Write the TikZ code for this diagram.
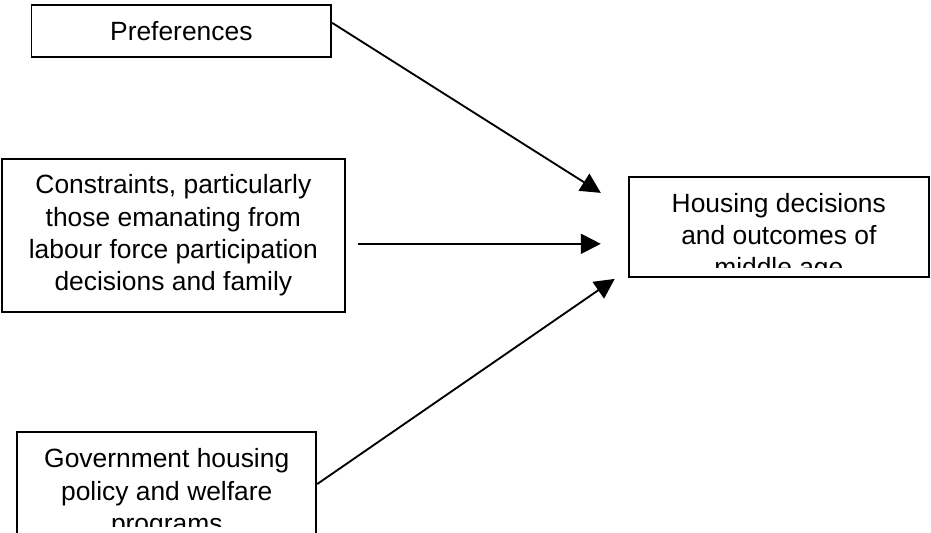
\documentclass[tikz,border=0pt]{standalone}
\usepackage{fontspec}
\setmainfont{Liberation Sans}
\usetikzlibrary{arrows.meta, positioning, calc}

\begin{document}
\begin{tikzpicture}[
    box/.style={rectangle, draw, line width=0.8pt, align=center, inner sep=0pt},
    txt/.style={align=center, inner sep=0pt},
    flow/.style={-{Triangle[length=8.6pt, width=8.6pt]}, line width=0.8pt},
    font=\fontsize{11.35}{13.8}\selectfont]
\useasboundingbox (0,0) rectangle (14.07,8.055);
\node[box, minimum width=4.53cm, minimum height=0.79cm] (pref) at (2.74,7.59) {Preferences};
\node[box, minimum width=5.18cm, minimum height=2.31cm] (cons) at (2.62,4.50) {Constraints, particularly\\those emanating from\\labour force participation\\decisions and family};
\node[box, minimum width=4.52cm, minimum height=1.57cm] (gov) at (2.52,0.74) {};
\node[box, minimum width=4.53cm, minimum height=1.51cm] (house) at (11.77,4.63) {};
% text runs past the bottom of these two boxes and gets cut
\begin{scope}
\clip ([yshift=0.15cm]house.south west) rectangle (house.north east);
\node[txt, anchor=north] (houseTxt) at ([yshift=-0.26cm]house.north) {Housing decisions\\and outcomes of\\middle age};
\end{scope}
\begin{scope}
\clip ([yshift=0.15cm]gov.south west) rectangle (gov.north east);
\node[txt, anchor=north] (govTxt) at ([yshift=-0.26cm]gov.north) {Government housing\\policy and welfare\\programs};
\end{scope}
\coordinate (inPref) at (9.08,5.14);
\coordinate (outCons) at (5.41,4.37);
\coordinate (inCons) at (9.08,4.37);
\coordinate (inGov) at (9.29,3.84);
\draw[flow] ([yshift=0.12cm]pref.east) -- (inPref);
\draw[flow] (outCons) -- (inCons);
\draw[flow] (gov.east) -- (inGov);
\end{tikzpicture}
\end{document}
